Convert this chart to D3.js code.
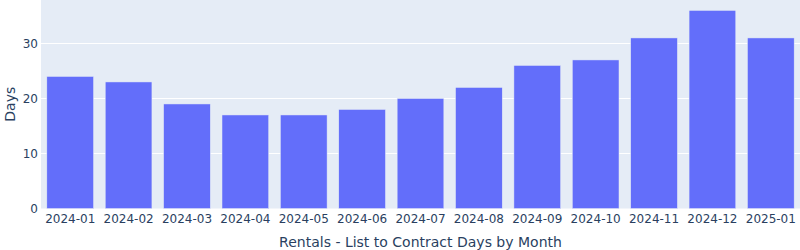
<!DOCTYPE html>
<html><head><meta charset="utf-8">
<script src="https://cdn.jsdelivr.net/npm/d3@7"></script>
<style>body{margin:0;background:#fff}svg{display:block}text{font-family:"DejaVu Sans",Verdana,sans-serif;fill:#2a3f5f}</style>
</head><body>
<script>
const categories = ["2024-01","2024-02","2024-03","2024-04","2024-05","2024-06","2024-07","2024-08","2024-09","2024-10","2024-11","2024-12","2025-01"];
const values = [24,23,19,17,17,18,20,22,26,27,31,36,31];
const yTicks = [0,10,20,30];
const xTitle = "Rentals - List to Contract Days by Month";
const yTitle = "Days";

const W = 800, H = 250;
const m = {left:41, right:0, top:0, bottom:41.5};
const svg = d3.select("body").append("svg").attr("width",W).attr("height",H);
const pw = W - m.left - m.right, ph = H - m.top - m.bottom;
const x = d3.scaleBand().domain(categories).range([m.left, W - m.right]).paddingInner(0.2).paddingOuter(0.1);
const y = d3.scaleLinear().domain([0, 36*1.0526]).range([m.top + ph, m.top]);

svg.append("rect").attr("x",m.left).attr("y",m.top).attr("width",pw).attr("height",ph).attr("fill","#E5ECF6");

svg.append("g").selectAll("line").data(yTicks.filter(d=>d>0)).join("line")
  .attr("x1",m.left).attr("x2",W-m.right)
  .attr("y1",d=>Math.round(y(d))+0.5).attr("y2",d=>Math.round(y(d))+0.5)
  .attr("stroke","#fff").attr("stroke-width",1);

svg.append("g").selectAll("rect").data(values).join("rect")
  .attr("x",(d,i)=>x(categories[i])).attr("width",x.bandwidth())
  .attr("y",d=>y(d)).attr("height",d=>y(0)-y(d))
  .attr("fill","#636efa").attr("stroke","#E5ECF6").attr("stroke-width",0.5);

const yAxis = d3.axisLeft(y).tickValues(yTicks).tickSize(0).tickPadding(3);
const gy = svg.append("g").attr("transform",`translate(${m.left-0},0)`).call(yAxis);
gy.select(".domain").remove();
gy.selectAll("text").attr("font-size",12).attr("fill","#2a3f5f").attr("font-family","DejaVu Sans");

const xAxis = d3.axisBottom(x).tickSize(0).tickPadding(6);
const gx = svg.append("g").attr("transform",`translate(0,${m.top+ph})`).call(xAxis);
gx.select(".domain").remove();
gx.selectAll("text").attr("font-size",12).attr("fill","#2a3f5f").attr("font-family","DejaVu Sans");

svg.append("text").attr("x",m.left+pw/2).attr("y",246.5).attr("text-anchor","middle").attr("font-size",14).text(xTitle);
svg.append("text").attr("transform",`translate(15,${m.top+ph/2}) rotate(-90)`).attr("text-anchor","middle").attr("font-size",14).text(yTitle);
</script>
</body></html>
